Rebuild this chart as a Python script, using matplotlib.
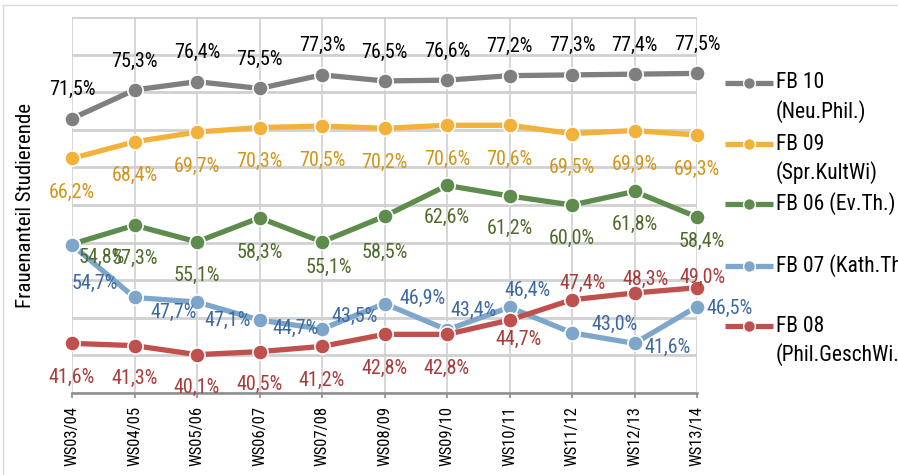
import matplotlib
matplotlib.use("Agg")
import matplotlib.pyplot as plt
from matplotlib.lines import Line2D
from matplotlib.patches import Rectangle

# -----------------------------
# DATA
# -----------------------------

semesters = ["WS03/04", "WS04/05", "WS05/06", "WS06/07", "WS07/08", "WS08/09",
             "WS09/10", "WS10/11", "WS11/12", "WS12/13", "WS13/14"]

fb10 = [71.5, 75.3, 76.4, 75.5, 77.3, 76.5, 76.6, 77.2, 77.3, 77.4, 77.5]
fb09 = [66.2, 68.4, 69.7, 70.3, 70.5, 70.2, 70.6, 70.6, 69.5, 69.9, 69.3]
fb06 = [54.8, 57.3, 55.1, 58.3, 55.1, 58.5, 62.6, 61.2, 60.0, 61.8, 58.4]
fb07 = [54.7, 47.7, 47.1, 44.7, 43.5, 46.9, 43.4, 46.4, 43.0, 41.6, 46.5]
fb08 = [41.6, 41.3, 40.1, 40.5, 41.2, 42.8, 42.8, 44.7, 47.4, 48.3, 49.0]

series_names = ["FB 10\n(Neu.Phil.)", "FB 09\n(Spr.KultWi)", "FB 06 (Ev.Th.)",
                "FB 07 (Kath.Th", "FB 08\n(Phil.GeschWi."]

# -----------------------------
# STYLE
# -----------------------------

FONT = ["Roboto Condensed", "DejaVu Sans"]
W, H = 898, 475

line_colors = ["#7f7f7f", "#f2b13a", "#5e8c4d", "#7ea6cb", "#c0504d"]
text_colors = ["#000000", "#d1951a", "#4f6a2a", "#3d69a2", "#a83c3b"]

# label offsets in pixels (dx right, dy down) relative to each point
above = [(0, -29)] * 11
below = [(0, 34)] * 11
off_fb06 = [(30, 13), (0, 33), (0, 34), (0, 35), (7, 26), (0, 36),
            (0, 32), (0, 32), (0, 33), (0, 33), (5, 24)]
off_fb07 = [(23, 39), (39, 15), (31, 18), (36, 8), (33, -13), (38, -5),
            (27, -19), (18, -17), (43, -8), (33, 4), (33, 2)]
off_fb08 = [(0, 34), (0, 33), (0, 33), (0, 33), (0, 34), (0, 34),
            (0, 34), (9, 19), (11, -16), (11, -14), (6, -10)]
label_offsets = [above, below, off_fb06, off_fb07, off_fb08]

# legend rows: (line y, [text line ys]) in image pixels
legend_rows = [(83, [83, 112]), (144, [144, 173]), (204, [204]),
               (266, [266]), (326, [326, 355])]

# -----------------------------
# FIGURE
# -----------------------------

fig = plt.figure(figsize=(W / 100, H / 100), dpi=100)
fig.patch.set_facecolor("white")

left, right, top, bottom = 72, 697, 17, 393
ax = fig.add_axes([left / W, 1 - bottom / H, (right - left) / W, (bottom - top) / H])

x = list(range(len(semesters)))
all_series = [fb10, fb09, fb06, fb07, fb08]

ax.set_xlim(0, len(semesters) - 1)
ax.set_ylim(35, 85)
ax.set_yticks(range(35, 86, 5))
ax.set_yticklabels([])
ax.tick_params(axis="y", length=0)
ax.set_xticks(x)
ax.set_xticklabels(semesters, rotation=90, fontsize=12, family=FONT)
ax.tick_params(axis="x", length=3.6, width=1.2, color="#8c8c8c", pad=6)

for spine in ["top", "right", "left"]:
    ax.spines[spine].set_visible(False)
ax.spines["bottom"].set_color("#8c8c8c")
ax.spines["bottom"].set_linewidth(1.8)
ax.spines["bottom"].set_zorder(1)

ax.grid(axis="y", color="#d0d0d0", linewidth=2.0)
ax.grid(axis="x", color="#d0d0d0", linewidth=1.2)
ax.set_axisbelow(True)

ax.set_ylabel("Frauenanteil Studierende", fontsize=15, family=FONT)
ax.yaxis.set_label_coords((35 - left) / (right - left), 0.5)

for vals, lc, tc, offs in zip(all_series, line_colors, text_colors, label_offsets):
    ax.plot(x, vals, color=lc, linewidth=3.8, marker="o", markersize=11,
            markeredgecolor="white", markeredgewidth=1.2, clip_on=False, zorder=3)
    for xi, v, (dx, dy) in zip(x, vals, offs):
        ax.annotate(f"{v:.1f}%".replace(".", ","), (xi, v), xytext=(dx, -dy),
                    textcoords="offset pixels", ha="center", va="center",
                    fontsize=14.5, color=tc, family=FONT, zorder=4,
                    annotation_clip=False)

# legend drawn by hand so the labels can run off the right edge like the original
for (ly, tys), name, lc in zip(legend_rows, series_names, line_colors):
    fig.add_artist(Line2D([725 / W, 773 / W], [1 - ly / H, 1 - ly / H],
                          color=lc, linewidth=3.8, solid_capstyle="butt"))
    fig.add_artist(Line2D([749 / W], [1 - ly / H], color=lc, marker="o",
                          markersize=8.5, markeredgecolor="white",
                          markeredgewidth=1.0, linestyle="none"))
    for ty, part in zip(tys, name.split("\n")):
        fig.text(776 / W, 1 - ty / H, part, ha="left", va="center",
                 fontsize=15.5, family=FONT, color="#000000")

# thin outer frame (its right and bottom edges lie outside the picture)
fig.add_artist(Rectangle((3 / W, -0.1), 1.1, 1.1 - 5 / H,
                         transform=fig.transFigure, fill=False,
                         edgecolor="#d9d9d9", linewidth=1.0))

fig.savefig("out.png", dpi=100)
